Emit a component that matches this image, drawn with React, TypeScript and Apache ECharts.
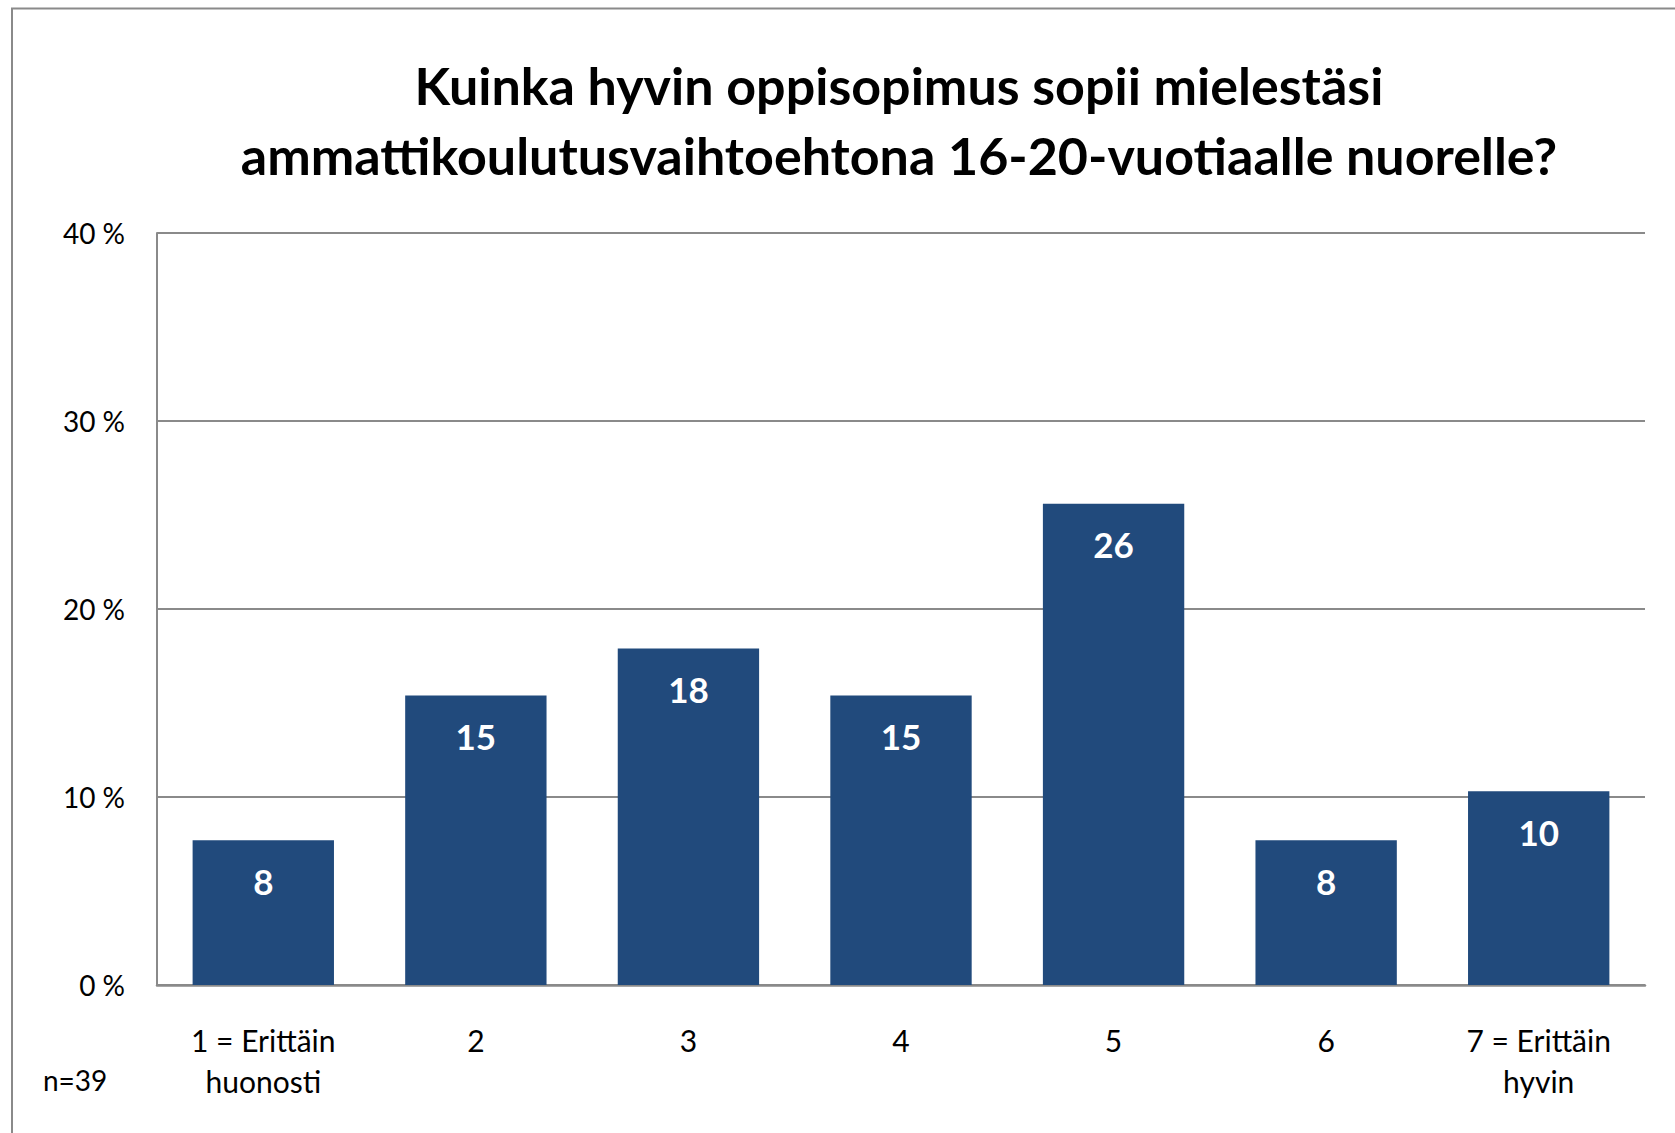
import React, { useEffect, useRef } from "react";
import * as echarts from "echarts";

const titleLines = [
  "Kuinka hyvin oppisopimus sopii mielestäsi",
  "ammattikoulutusvaihtoehtona 16-20-vuotiaalle nuorelle?",
];
const categories = ["1 = Erittäin\nhuonosti", "2", "3", "4", "5", "6", "7 = Erittäin\nhyvin"];
const percentValues = [7.7, 15.4, 17.9, 15.4, 25.6, 7.7, 10.3];
const yTicks = [0, 10, 20, 30, 40];
const noteText = "n=39";

const FONT = "Lato";
const GRAY = "#8a8a8a";
const BAR = "#214a7c";

export default function App() {
  const ref = useRef<HTMLDivElement>(null);
  useEffect(() => {
    if (!ref.current) return;
    const chart = echarts.init(ref.current, null, { renderer: "svg" });
    chart.setOption({
      animation: false,
      backgroundColor: "#ffffff",
      grid: { left: 157, right: 30, top: 233, bottom: 148, containLabel: false },
      xAxis: {
        type: "category",
        data: categories,
        axisLine: { show: true, lineStyle: { color: GRAY, width: 2.5 } },
        axisTick: { show: false },
        axisLabel: {
          fontFamily: FONT,
          fontSize: 30,
          lineHeight: 41,
          color: "#000",
          margin: 34,
          interval: 0,
        },
      },
      yAxis: {
        type: "value",
        min: yTicks[0],
        max: yTicks[yTicks.length - 1],
        interval: 10,
        axisLine: { show: true, lineStyle: { color: GRAY, width: 2 } },
        axisTick: { show: false },
        splitLine: { show: true, lineStyle: { color: GRAY, width: 2 } },
        axisLabel: {
          fontFamily: FONT,
          fontSize: 28,
          color: "#000",
          margin: 32,
          formatter: (v: number) => `${v} %`,
        },
      },
      series: [
        {
          type: "bar",
          data: percentValues,
          barCategoryGap: "33.5%",
          itemStyle: { color: BAR },
          label: {
            show: true,
            position: "insideTop",
            distance: 23,
            color: "#fff",
            fontFamily: FONT,
            fontWeight: "bold",
            fontSize: 35,
            formatter: (p: any) => `${Math.round(p.value)}`,
          },
        },
      ],
      graphic: [
        {
          type: "rect",
          shape: { x: 12, y: 8.5, width: 1800, height: 1300 },
          style: { fill: "none", stroke: GRAY, lineWidth: 2 },
          silent: true,
        },
        {
          type: "text",
          x: 899,
          y: 85,
          style: {
            text: titleLines[0],
            fontFamily: FONT,
            fontWeight: "bold",
            fontSize: 52,
            fill: "#000",
            textAlign: "center",
            textVerticalAlign: "middle",
          },
        },
        {
          type: "text",
          x: 899,
          y: 155,
          style: {
            text: titleLines[1],
            fontFamily: FONT,
            fontWeight: "bold",
            fontSize: 52,
            fill: "#000",
            textAlign: "center",
            textVerticalAlign: "middle",
          },
        },
        {
          type: "text",
          x: 43,
          y: 1080,
          style: {
            text: noteText,
            fontFamily: FONT,
            fontSize: 28,
            fill: "#000",
            textAlign: "left",
            textVerticalAlign: "middle",
          },
        },
      ],
    });
    return () => chart.dispose();
  }, []);
  return (
    <div
      ref={ref}
      style={{ position: "fixed", left: 0, top: 0, width: 1675, height: 1133 }}
    />
  );
}
